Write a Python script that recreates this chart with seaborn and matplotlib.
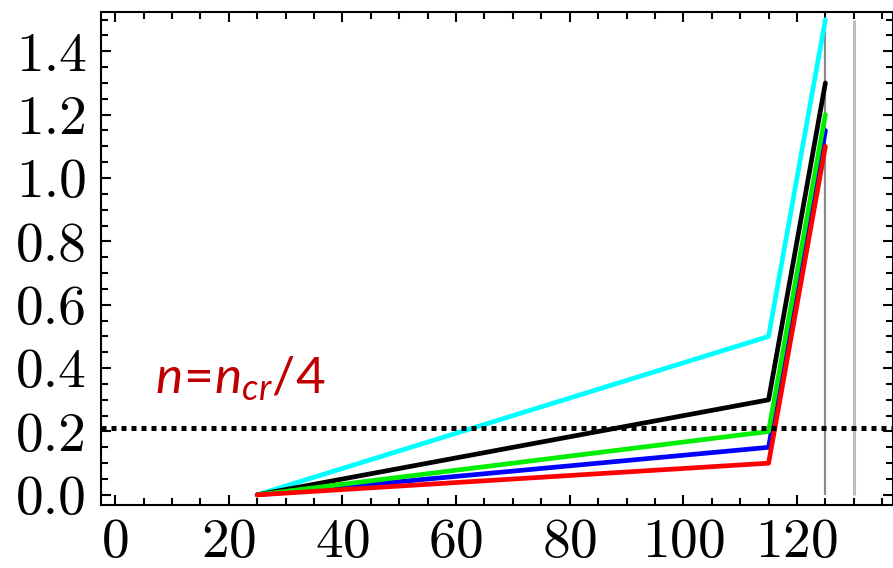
import numpy as np
import pandas as pd
import matplotlib
matplotlib.use("Agg")
import matplotlib.pyplot as plt
from matplotlib.ticker import MultipleLocator
import seaborn as sns

# datos
x_vals = [25, 115, 125]
y_cyan = [0.0, 0.50, 1.50]
y_black = [0.0, 0.30, 1.30]
y_blue = [0.0, 0.15, 1.15]
y_green = [0.0, 0.20, 1.20]
y_red = [0.0, 0.10, 1.10]
series_names = ["cyan", "black", "blue", "green", "red"]
series_vals = [y_cyan, y_black, y_blue, y_green, y_red]
vlines_x = [125, 130]
threshold = 0.21
label_txt = r"$n\!=\!n_{cr}/4$"

rows = []
for name, vals in zip(series_names, series_vals):
    for xv, yv in zip(x_vals, vals):
        rows.append({"x": xv, "y": yv, "serie": name})
df = pd.DataFrame(rows)

sns.set_style("ticks")
plt.rcParams["font.family"] = ["cmr10", "DejaVu Serif"]
plt.rcParams["axes.formatter.use_mathtext"] = True
plt.rcParams["mathtext.fontset"] = "custom"
plt.rcParams["mathtext.rm"] = "Lato"
plt.rcParams["mathtext.it"] = "Lato:italic"

fig = plt.figure(figsize=(8.93, 5.68), dpi=100)
ax = fig.add_axes([0.1128, 0.1109, 0.8872, 0.868])

# lineas verticales grises
ax.vlines(vlines_x[0], 0, 1.5, color="#8a8a8a", lw=1.6, zorder=1)
ax.vlines(vlines_x[1], 0, 1.5, color="#bdbdbd", lw=2.2, zorder=1)

paleta = {"cyan": "#00ffff", "black": "#000000", "blue": "#0000ff",
          "green": "#00ee00", "red": "#ff0000"}
sns.lineplot(data=df, x="x", y="y", hue="serie", palette=paleta,
             hue_order=series_names, linewidth=3.4, legend=False,
             estimator=None, sort=False, ax=ax, zorder=3)

ax.axhline(threshold, color="black", lw=3.6, ls=(0, (1, 1)),
           dash_capstyle="butt", zorder=4)

ax.text(7, 0.32, label_txt, color="#c00000", fontsize=37,
        ha="left", va="baseline")

ax.set_xlim(-2.53, 136.9)
ax.set_ylim(-0.032, 1.524)
ax.xaxis.set_major_locator(MultipleLocator(20))
ax.xaxis.set_minor_locator(MultipleLocator(5))
ax.yaxis.set_major_locator(MultipleLocator(0.2))
ax.yaxis.set_minor_locator(MultipleLocator(0.05))
ax.yaxis.set_major_formatter(matplotlib.ticker.FormatStrFormatter("%.1f"))
ax.tick_params(which="both", direction="in", top=True, right=True,
               width=1.5, colors="black", labelsize=40)
ax.tick_params(which="major", length=7)
ax.tick_params(which="minor", length=5)
ax.tick_params(axis="x", pad=10)
ax.tick_params(axis="y", pad=10)
ax.set_xlabel("")
ax.set_ylabel("")
for s in ax.spines.values():
    s.set_linewidth(1.5)
    s.set_color("black")

plt.savefig("out.png", dpi=100)
plt.close()
